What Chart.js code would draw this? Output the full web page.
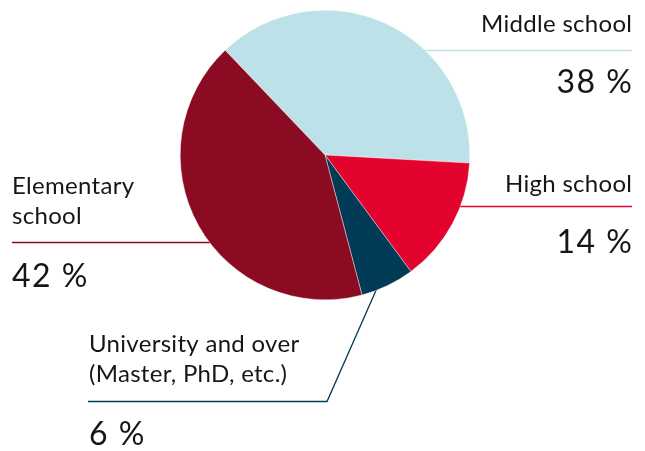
<!DOCTYPE html>
<html>
<head>
<meta charset="utf-8">
<script src="https://cdn.jsdelivr.net/npm/chart.js@4"></script>
<style>
html,body{margin:0;padding:0;background:#fff;}
canvas{display:block;}
</style>
</head>
<body>
<canvas id="c" width="645" height="451"></canvas>
<script>
// ---- data ----
const categories = ["Middle school", "High school", "University and over", "Elementary school"];
const labelLines = [["Middle school"], ["High school"], ["University and over", "(Master, PhD, etc.)"], ["Elementary", "school"]];
const shares = [38, 14, 6, 42];
const colors = ["#bde1e8", "#e4032e", "#003a54", "#8b0c22"];

// ---- label layout (positions, not data) ----
const labelLayout = [
  {align: "right", x: 632, lineY: 50.5, lineFrom: 330, lineTo: 632, textBase: [31.5], pctBase: 92.5},
  {align: "right", x: 632, lineY: 206.5, lineFrom: 330, lineTo: 632, textBase: [192], pctBase: 253},
  {align: "left", x: 89, lineY: 401.5, lineFrom: 88, lineTo: 327, bendTo: [385, 270], textBase: [352, 382], pctBase: 445},
  {align: "left", x: 12, lineY: 242.5, lineFrom: 12, lineTo: 320, textBase: [194, 223.5], pctBase: 287}
];

const leaderPlugin = {
  id: "leaders",
  beforeDatasetsDraw(chart) {
    const ctx = chart.ctx;
    ctx.save();
    ctx.lineWidth = 1.3;
    labelLayout.forEach((L, i) => {
      ctx.strokeStyle = colors[i];
      ctx.beginPath();
      ctx.moveTo(L.lineFrom, L.lineY);
      ctx.lineTo(L.lineTo, L.lineY);
      if (L.bendTo) ctx.lineTo(L.bendTo[0], L.bendTo[1]);
      ctx.stroke();
    });
    ctx.restore();
  },
  afterDatasetsDraw(chart) {
    const ctx = chart.ctx;
    const vals = chart.data.datasets[0].data;
    ctx.save();
    ctx.fillStyle = "#161616";
    ctx.textBaseline = "alphabetic";
    labelLayout.forEach((L, i) => {
      ctx.textAlign = L.align;
      const dx = L.align === "right" ? 0.3 : 0;
      ctx.font = "24px Lato";
      ctx.letterSpacing = "0.3px";
      labelLines[i].forEach((t, k) => ctx.fillText(t, L.x + dx, L.textBase[k]));
      ctx.font = "32px Lato";
      ctx.letterSpacing = "1.5px";
      ctx.fillText(vals[i] + " %", L.x + (L.align === "right" ? 1.5 : 0), L.pctBase);
    });
    ctx.restore();
  }
};

new Chart(document.getElementById("c"), {
  type: "pie",
  data: {
    labels: categories,
    datasets: [{
      data: shares,
      backgroundColor: colors,
      borderColor: "#ffffff",
      borderWidth: 0.4,
      hoverOffset: 0
    }]
  },
  options: {
    responsive: false,
    animation: false,
    rotation: -43.6,
    layout: {padding: {left: 180, right: 175, top: 10, bottom: 151}},
    plugins: {legend: {display: false}, tooltip: {enabled: false}}
  },
  plugins: [leaderPlugin]
});
</script>
</body>
</html>
